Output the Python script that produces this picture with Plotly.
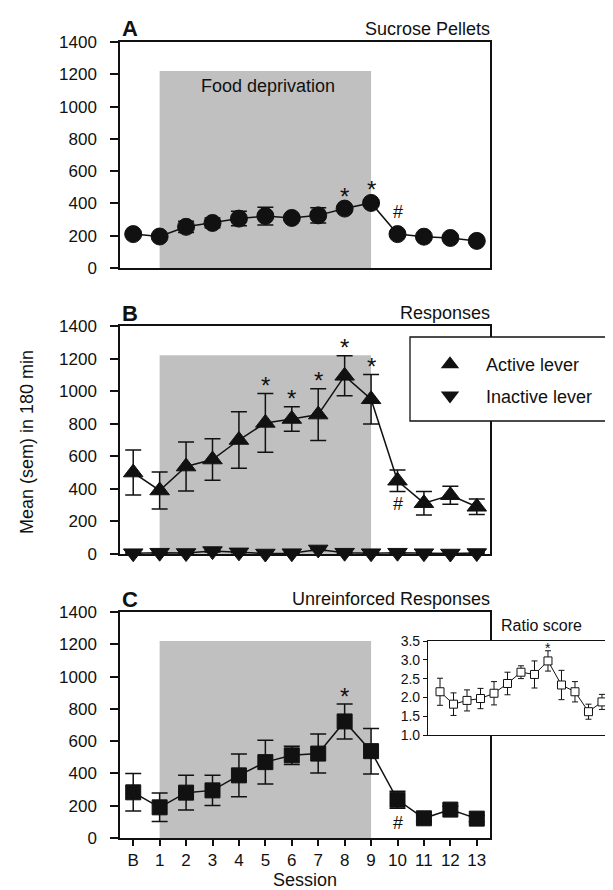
import plotly.graph_objects as go

# ---------------- data ----------------
sessions = list(range(14))
session_labels = ["B"] + [str(i) for i in range(1, 14)]

pellets_mean = [210, 195, 255, 279, 306, 322, 310, 326, 368, 403, 210, 194, 186, 168]
pellets_sem = [12, 10, 35, 30, 45, 55, 15, 48, 15, 20, 10, 8, 8, 8]

active_mean = [500, 390, 537, 580, 700, 805, 829, 856, 1094, 950, 450, 312, 361, 290]
active_sem = [138, 113, 150, 127, 173, 180, 75, 159, 123, 152, 66, 72, 55, 48]
inactive_mean = [5, 8, 6, 18, 10, 3, 5, 28, 8, 5, 8, 5, 3, 6]
inactive_sem = [3, 3, 3, 5, 3, 2, 3, 6, 3, 2, 3, 2, 2, 2]

unrein_mean = [283, 190, 281, 295, 388, 470, 512, 523, 722, 538, 237, 122, 176, 120]
unrein_sem = [116, 88, 107, 93, 133, 135, 56, 121, 108, 141, 52, 20, 20, 20]

ratio_mean = [2.15, 1.82, 1.92, 1.97, 2.11, 2.37, 2.67, 2.61, 2.97, 2.33, 2.15, 1.62, 1.88, 1.68]
ratio_sem = [0.36, 0.30, 0.28, 0.27, 0.31, 0.30, 0.17, 0.36, 0.27, 0.39, 0.27, 0.20, 0.20, 0.15]

pellets_star = [8, 9]
pellets_hash = [10]
active_star = [5, 6, 7, 8, 9]
active_hash = [10]
unrein_star = [8]
unrein_hash = [10]
ratio_star = [8]

deprivation_start = 1
deprivation_end = 9
shade_top = 1220

# ---------------- layout geometry ----------------
W, H = 613, 890
FONT = "Liberation Sans, Arial, sans-serif"
def px_x(p): return p / W
def px_y(p): return 1 - p / H

main_dom = [px_x(112), px_x(482)]
dom_A = [px_y(260), px_y(34)]
dom_B = [px_y(546), px_y(318)]
dom_C = [px_y(830), px_y(604)]
inset_dom_x = [px_x(420), 1.0]
inset_dom_y = [px_y(727), px_y(633)]

SHADE = "#c0c0c0"
BLK = "#111111"

fig = go.Figure()

def series(x, y, e, xa, ya, symbol, size, fill=BLK, lw=1.5, ew=8, eth=1.5):
    fig.add_trace(go.Scatter(
        x=x, y=y, xaxis=xa, yaxis=ya, mode="lines+markers",
        line=dict(color=BLK, width=lw),
        marker=dict(symbol=symbol, size=size, color=fill, line=dict(color=BLK, width=1)),
        error_y=dict(type="data", array=e, visible=True, color=BLK, thickness=eth, width=ew),
        showlegend=False, cliponaxis=False, hoverinfo="skip"))

series(sessions, pellets_mean, pellets_sem, "x", "y", "circle", 17)
series(sessions, active_mean, active_sem, "x2", "y2", "triangle-up", 17)
series(sessions, inactive_mean, inactive_sem, "x2", "y2", "triangle-down", 17)
series(sessions, unrein_mean, unrein_sem, "x3", "y3", "square", 15)
series(sessions, ratio_mean, ratio_sem, "x4", "y4", "square", 8, fill="white", lw=1, ew=3, eth=1)

# legend-only entries
for name, sym in [("Active lever", "triangle-up"), ("Inactive lever", "triangle-down")]:
    fig.add_trace(go.Scatter(x=[None], y=[None], xaxis="x2", yaxis="y2", mode="markers",
                             name=name, legendgroup=name,
                             marker=dict(symbol=sym, size=18, color=BLK)))

# shading
shapes = []
for xr, yr in [("x", "y"), ("x2", "y2"), ("x3", "y3")]:
    shapes.append(dict(type="rect", xref=xr, yref=yr, x0=deprivation_start, x1=deprivation_end,
                       y0=0, y1=shade_top, fillcolor=SHADE, line=dict(width=0), layer="below"))
shapes.append(dict(type="rect", xref="x4", yref="y4 domain", x0=deprivation_start, x1=deprivation_end,
                   y0=0, y1=1, fillcolor=SHADE, line=dict(width=0), layer="below"))
# legend box
shapes.append(dict(type="rect", xref="paper", yref="paper", x0=px_x(402), x1=px_x(600),
                   y0=px_y(413), y1=px_y(329), fillcolor="white", line=dict(color=BLK, width=1.3),
                   layer="above"))

ann = []
def txt(x, y, s, size, xanchor="center", yanchor="middle", bold=False, **kw):
    d = dict(x=x, y=y, xref="paper", yref="paper", text=("<b>%s</b>" % s) if bold else s,
             showarrow=False, xanchor=xanchor, yanchor=yanchor,
             font=dict(family=FONT, size=size, color=BLK))
    d.update(kw)
    ann.append(d)

# panel letters and titles
txt(px_x(112), px_y(20), "A", 22, xanchor="left", bold=True)
txt(px_x(112), px_y(305), "B", 22, xanchor="left", bold=True)
txt(px_x(112), px_y(591), "C", 22, xanchor="left", bold=True)
txt(px_x(484), px_y(21), "Sucrose Pellets", 18, xanchor="right")
txt(px_x(484), px_y(305), "Responses", 18, xanchor="right")
txt(px_x(484), px_y(591), "Unreinforced Responses", 18, xanchor="right")
txt(px_x(533), px_y(617), "Ratio score", 16)
txt(px_x(19), px_y(434), "Mean (sem) in 180 min", 18, textangle=-90)
txt(px_x(297), px_y(872), "Session", 18)
ann.append(dict(x=5.1, y=1130, xref="x", yref="y", text="Food deprivation", showarrow=False,
                font=dict(family=FONT, size=18, color=BLK)))

def marks(idx_list, mean, sem, xr, yr, s, size, up, shift):
    for i in idx_list:
        yv = mean[i] + sem[i] if up else mean[i] - sem[i]
        ann.append(dict(x=i, y=yv, xref=xr, yref=yr, text=s, showarrow=False,
                        yanchor="middle", yshift=shift,
                        font=dict(family=FONT, size=size, color=BLK)))

marks(pellets_star, pellets_mean, pellets_sem, "x", "y", "*", 24, True, 10)
for i in pellets_hash:
    ann.append(dict(x=i, y=pellets_mean[i], xref="x", yref="y", text="#", showarrow=False,
                    yanchor="middle", yshift=22, font=dict(family=FONT, size=18, color=BLK)))
marks(active_star, active_mean, active_sem, "x2", "y2", "*", 24, True, 8)
marks(active_hash, active_mean, active_sem, "x2", "y2", "#", 18, False, -13)
marks(unrein_star, unrein_mean, unrein_sem, "x3", "y3", "*", 24, True, 8)
marks(unrein_hash, unrein_mean, unrein_sem, "x3", "y3", "#", 18, False, -15)
marks(ratio_star, ratio_mean, ratio_sem, "x4", "y4", "*", 14, True, 3)

axis_common = dict(showline=True, linecolor=BLK, linewidth=1.5, mirror=True,
                   showgrid=False, zeroline=False, automargin=False)
xmain = dict(axis_common, domain=main_dom, range=[-0.5, 13.5], showticklabels=False, ticks="")
ymain = dict(axis_common, range=[0, 1400], tickvals=list(range(0, 1401, 200)), ticks="outside",
             ticklen=8, tickwidth=1.5, tickcolor=BLK, ticklabelstandoff=10,
             tickfont=dict(family=FONT, size=17, color=BLK))

fig.update_layout(
    width=W, height=H, margin=dict(l=0, r=0, t=0, b=0, autoexpand=False),
    paper_bgcolor="white", plot_bgcolor="white",
    font=dict(family=FONT, color=BLK),
    xaxis=dict(xmain, anchor="y"),
    yaxis=dict(ymain, domain=dom_A, anchor="x"),
    xaxis2=dict(xmain, anchor="y2"),
    yaxis2=dict(ymain, domain=dom_B, anchor="x2"),
    xaxis3=dict(xmain, anchor="y3", showticklabels=True, ticks="outside", ticklen=6,
                tickwidth=1.5, tickcolor=BLK, tickvals=sessions, ticktext=session_labels,
                tickfont=dict(family=FONT, size=17, color=BLK)),
    yaxis3=dict(ymain, domain=dom_C, anchor="x3"),
    xaxis4=dict(axis_common, linewidth=1.2, domain=inset_dom_x, range=[-0.89, 13.41],
                showticklabels=False, ticks="", anchor="y4"),
    yaxis4=dict(axis_common, linewidth=1.2, domain=inset_dom_y, range=[1.0, 3.5],
                tickvals=[1.0, 1.5, 2.0, 2.5, 3.0, 3.5], tickformat=".1f", ticks="outside",
                ticklen=4, tickwidth=1, tickcolor=BLK,
                tickfont=dict(family=FONT, size=14, color=BLK), anchor="x4"),
    shapes=shapes, annotations=ann,
    legend=dict(x=px_x(406), y=px_y(338), xanchor="left", yanchor="top",
                bgcolor="rgba(0,0,0,0)", borderwidth=0, itemwidth=62, tracegroupgap=5,
                font=dict(family=FONT, size=18, color=BLK)),
)

fig.write_html("out.html")
